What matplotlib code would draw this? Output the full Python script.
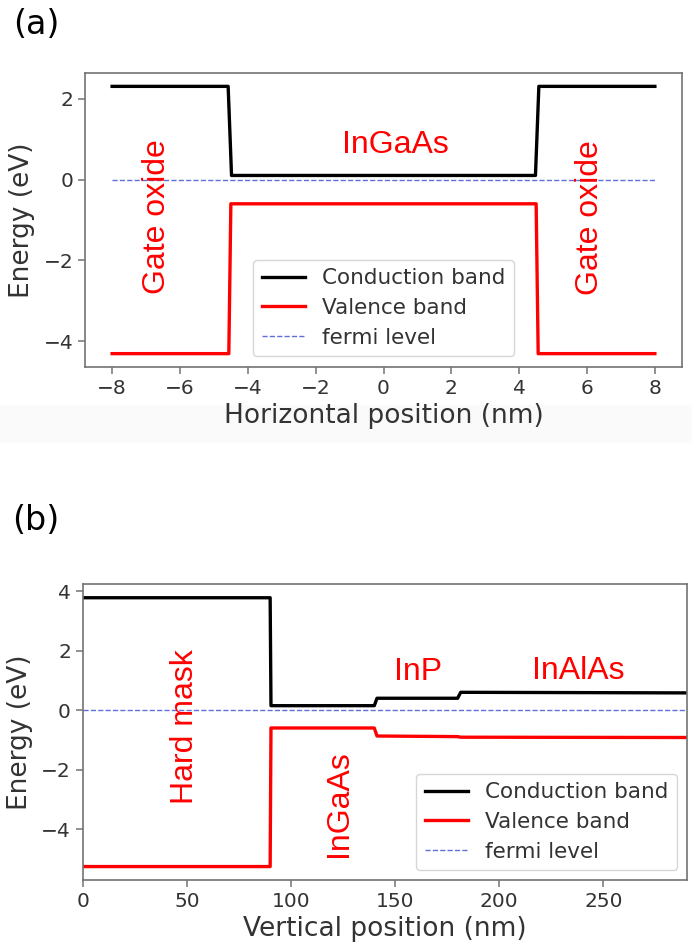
import matplotlib
matplotlib.use("Agg")
import matplotlib.pyplot as plt
from matplotlib.patches import Rectangle


# panel (a): horizontal cut through the fin
x_a_cb = [-8, -4.58, -4.48, 4.48, 4.58, 8]
cb_a = [2.3, 2.3, 0.1, 0.1, 2.3, 2.3]
x_a_vb = [-8, -4.56, -4.5, 4.5, 4.56, 8]
vb_a = [-4.3, -4.3, -0.6, -0.6, -4.3, -4.3]
fermi_a_x = [-8, 8]
fermi_a = [0, 0]
xticks_a = [-8, -6, -4, -2, 0, 2, 4, 6, 8]
yticks_a = [-4, -2, 0, 2]

# panel (b): vertical cut through the stack
x_b = [0, 90, 90.4, 140, 141.3, 180, 181.5, 290]
cb_b = [3.78, 3.78, 0.15, 0.15, 0.4, 0.4, 0.6, 0.58]
vb_b = [-5.26, -5.26, -0.6, -0.6, -0.87, -0.89, -0.91, -0.92]
fermi_b_x = [0, 290]
fermi_b = [0, 0]
xticks_b = [0, 50, 100, 150, 200, 250]
yticks_b = [-4, -2, 0, 2, 4]

labels = ["Conduction band", "Valence band", "fermi level"]

# region names (x, y, text, rotation)
regions_a = [(-6.67, -0.92, "Gate oxide", 90),
             (6.1, -0.93, "Gate oxide", 90),
             (0.35, 0.85, "InGaAs", 0)]
regions_b = [(49, -0.57, "Hard mask", 90),
             (123, -3.16, "InGaAs", 90),
             (161, 1.27, "InP", 0),
             (238, 1.3, "InAlAs", 0)]

TEXT = "0.2"
SPINE = "0.45"
RED_FONT = ["Liberation Sans", "DejaVu Sans"]

fig = plt.figure(figsize=(6.92, 9.47), dpi=100)
fig.patches.append(Rectangle((0, 1 - 442 / 947), 1, 37 / 947, transform=fig.transFigure,
                             color="#fafafa", zorder=-10))

ax_a = fig.add_axes([85 / 692, 1 - 367 / 947, (682 - 85) / 692, (367 - 73) / 947])
ax_b = fig.add_axes([82.7 / 692, 1 - 880 / 947, (686.7 - 82.7) / 692, (880 - 584.3) / 947])


def style_axes(ax, xlabel):
    for s in ax.spines.values():
        s.set_color(SPINE)
        s.set_linewidth(1.2)
    ax.tick_params(colors=SPINE, labelcolor=TEXT, labelsize=14.5, length=5, width=1.1)
    ax.set_xlabel(xlabel, fontsize=19, color=TEXT, labelpad=4)
    ax.set_ylabel("Energy (eV)", fontsize=19, color=TEXT, labelpad=6)


def draw_bands(ax, x_cb, cb, x_vb, vb, fx, fy):
    ax.plot(x_cb, cb, color="black", lw=2.4, label=labels[0])
    ax.plot(x_vb, vb, color="red", lw=2.4, label=labels[1])
    ax.plot(fx, fy, color="#2a3fd0", lw=1.0, ls="--", alpha=0.75, label=labels[2])


draw_bands(ax_a, x_a_cb, cb_a, x_a_vb, vb_a, fermi_a_x, fermi_a)
ax_a.set_xticks(xticks_a)
ax_a.set_yticks(yticks_a)
style_axes(ax_a, "Horizontal position (nm)")
for x, y, t, rot in regions_a:
    ax_a.text(x, y, t, color="red", fontsize=23, rotation=rot, ha="center", va="center",
              family=RED_FONT)
ax_a.legend(loc="lower center", fontsize=15.5, labelspacing=0.45, borderaxespad=0.5,
            handlelength=2.0, labelcolor=TEXT)

draw_bands(ax_b, x_b, cb_b, x_b, vb_b, fermi_b_x, fermi_b)
ax_b.set_xlim(0, 290)
ax_b.set_xticks(xticks_b)
ax_b.set_yticks(yticks_b)
style_axes(ax_b, "Vertical position (nm)")
for x, y, t, rot in regions_b:
    ax_b.text(x, y, t, color="red", fontsize=23, rotation=rot, ha="center", va="center",
              family=RED_FONT)
ax_b.legend(loc="lower right", fontsize=15.5, labelspacing=0.45, borderaxespad=0.45,
            handlelength=2.0, labelcolor=TEXT)

fig.text(13 / 692, 1 - 24 / 947, "(a)", fontsize=24, color="black", va="center", ha="left")
fig.text(12 / 692, 1 - 520 / 947, "(b)", fontsize=24, color="black", va="center", ha="left")

fig.savefig("out.png", dpi=100)
